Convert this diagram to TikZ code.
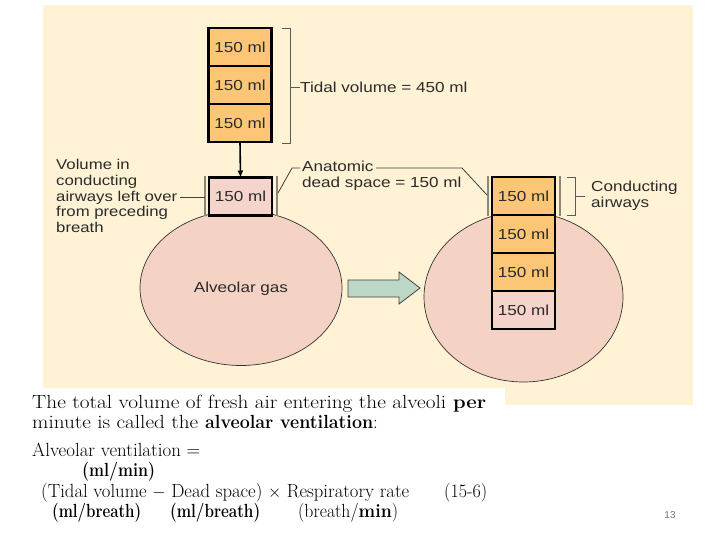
\documentclass[tikz,border=0pt]{standalone}
\usetikzlibrary{shapes.geometric,arrows.meta}
\usepackage{fontspec}
\newfontfamily\lab[FakeStretch=1.18]{Liberation Sans}
\newfontfamily\pnum{Liberation Sans}
\newcommand{\fitw}[2]{\resizebox{#1}{\height}{#2}}
\definecolor{cream}{HTML}{FFF2D5}
\definecolor{orng}{HTML}{FCC676}
\definecolor{pinkbox}{HTML}{F5D5CB}
\definecolor{pinkell}{HTML}{F5D3C4}
\definecolor{grn}{HTML}{BDD7C6}
\definecolor{grayln}{HTML}{8F8676}
\definecolor{txt}{HTML}{2B2B2B}
\begin{document}
\begin{tikzpicture}[x=1pt,y=-1pt,
  volbox/.style={draw=black,line width=2.6pt,minimum width=63pt,minimum height=38pt,inner sep=0pt,outer sep=0pt,
    font=\lab\fontsize{14.5}{16}\selectfont,text=txt},
  orbox/.style={volbox,fill=orng},
  pkbox/.style={volbox,fill=pinkbox},
  alv/.style={ellipse,draw=black!80,line width=0.7pt,fill=pinkell,inner sep=0pt},
  wall/.style={draw=grayln,line width=2.4pt},
  brk/.style={draw=black!65,line width=0.9pt},
  lead/.style={draw=black!75,line width=0.8pt},
  lbl/.style={font=\lab\fontsize{14.5}{16}\selectfont,text=txt,align=left,inner sep=0pt},
  serif/.style={font=\fontsize{19}{22}\selectfont,text=black,anchor=base west,inner sep=0pt}
]
\useasboundingbox (0,0) rectangle (720,540);
\fill[white] (0,0) rectangle (720,540);
\fill[cream] (43,5) rectangle (693,405);
\fill[white] (20,388) rectangle (505,540);

% ellipses
\node[alv,minimum width=202pt,minimum height=155pt] (e1) at (241,288) {};
\node[alv,minimum width=199pt,minimum height=170pt] (e2) at (523.5,297) {};
\node[font=\lab\fontsize{14.5}{16}\selectfont,text=txt] (ag) at (241,289) {Alveolar gas};

% left column
\node[orbox] (t1) at (240,47) {150 ml};
\node[orbox] (t2) at (240,85) {150 ml};
\node[orbox] (t3) at (240,123) {150 ml};
\node[pkbox] (d1) at (240.5,196.5) {150 ml};
\draw[wall] (205,176) -- (205,216);
\draw[wall] (277,176) -- (277,216);
\draw[line width=1.6pt,-{Latex[length=7pt,width=6pt]}] (t3.south) -- (d1.north);

% right column
\node[orbox] (r1) at (523.5,196) {150 ml};
\node[orbox] (r2) at (523.5,234) {150 ml};
\node[orbox] (r3) at (523.5,272) {150 ml};
\node[pkbox] (r4) at (523.5,310) {150 ml};
\draw[wall] (488,176) -- (488,216);
\draw[wall] (560,176) -- (560,216);

% green arrow
\draw[fill=grn,draw=black!75,line width=0.8pt] (348,280) -- (399,280) -- (399,272) -- (420,288) -- (399,304) -- (399,297) -- (348,297) -- cycle;

% tidal bracket
\draw[brk] (282,28) -- (290,28) -- (290,143) -- (282,143);
\coordinate (tb) at (290,87);
\node[lbl,anchor=west] (tv) at (300,87) {Tidal volume = 450 ml};
\draw[brk] (tb) -- (tv.west);

% left label
\node[lbl,anchor=west,font=\lab\fontsize{14.2}{15.6}\selectfont] (lv) at (56,196) {Volume in\\conducting\\airways left over\\from preceding\\breath};
\coordinate (lvend) at (180,197);
\coordinate (lwall) at (205,197);
\draw[lead] (lvend) -- (lwall);

% anatomic dead space
\node[lbl,anchor=west] (ad) at (302,176) {Anatomic\\dead space = 150 ml};
\coordinate (a1) at (278,193);
\coordinate (a2) at (292,168);
\coordinate (a3) at (300,168);
\coordinate (a4) at (376,168);
\coordinate (a5) at (462,168);
\coordinate (a6) at (487,195);
\draw[lead] (a1) -- (a2) -- (a3);
\draw[lead] (a4) -- (a5) -- (a6);

% conducting airways bracket
\draw[brk] (567,177) -- (575,177) -- (575,215) -- (567,215);
\coordinate (cb) at (575,196);
\node[lbl,anchor=west] (ca) at (591,196) {Conducting\\airways};
\draw[brk] (cb) -- (585,196);

% bottom text
\node[serif] (l1a) at (32,408) {\fitw{414pt}{The total volume of fresh air entering the alveoli}};
\node[serif] (l1b) at (453,408) {\fitw{33pt}{\textbf{per}}};
\node[serif] (l2a) at (32,428) {\fitw{166pt}{minute is called the}};
\node[serif] (l2b) at (205,428) {\fitw{168pt}{\textbf{alveolar ventilation}}:};
\node[serif] (l3) at (32,456) {\fitw{168pt}{Alveolar ventilation =}};
\node[serif] (l4) at (82,476) {\fitw{73pt}{\textbf{(ml/min)}}};
\node[serif] (l5) at (41,497) {\fitw{368pt}{(Tidal volume $-$ Dead space) $\times$ Respiratory rate}};
\node[serif] (l6) at (444,497) {\fitw{43pt}{(15-6)}};
\node[serif] (u1) at (52,517) {\fitw{89pt}{\textbf{(ml/breath)}}};
\node[serif] (u2) at (170,517) {\fitw{90pt}{\textbf{(ml/breath)}}};
\node[serif] (u3) at (298,517) {\fitw{100pt}{(breath/\textbf{min})}};

\node[font=\pnum\fontsize{10}{12}\selectfont,text=black!55] (pg) at (670,515) {13};
\end{tikzpicture}
\end{document}
